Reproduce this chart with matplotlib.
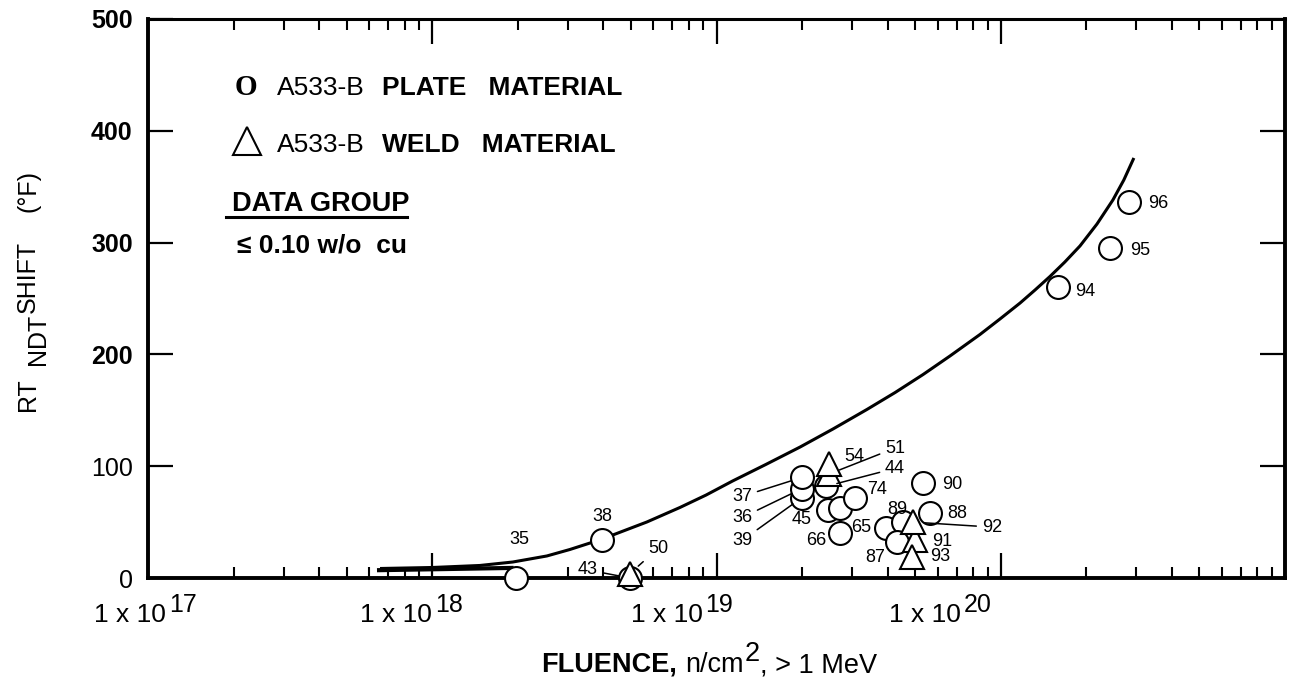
import matplotlib
matplotlib.use("Agg")
import matplotlib.pyplot as plt
from matplotlib.ticker import LogLocator, NullFormatter, FixedLocator
from matplotlib import transforms

plt.rcParams["font.family"] = ["Liberation Sans", "DejaVu Sans"]

# ---------------- data ----------------
# A533-B plate specimens (fluence n/cm^2, RT_NDT shift degF, specimen id)
plate_ids = ["35", "38", "43", "39", "36", "37", "44", "45", "", "74",
             "66", "65", "89", "87", "90", "88", "94", "95", "96"]
plate_fluence = [1.97e18, 3.96e18, 4.96e18, 2.0e19, 2.0e19, 2.0e19, 2.43e19,
                 2.47e19, 2.72e19, 3.07e19, 2.72e19, 3.95e19, 4.53e19, 4.32e19,
                 5.33e19, 5.64e19, 1.59e20, 2.42e20, 2.83e20]
plate_shift = [0, 34, 0, 72, 80, 90, 82, 61, 63, 72, 40, 45, 50, 32, 85, 58,
               260, 295, 336]

# A533-B weld specimens
weld_ids = ["50", "51", "54", "91", "93", "92"]
weld_fluence = [4.96e18, 2.49e19, 2.49e19, 4.99e19, 4.87e19, 4.91e19]
weld_shift = [4, 93, 102, 34, 19, 50]

# upper-bound trend curve
curve_fluence = [6.55e17, 1.0e18, 1.47e18, 1.92e18, 2.53e18, 3.05e18, 3.59e18,
                 4.32e18, 5.69e18, 7.44e18, 9.19e18, 1.14e19, 1.49e19, 1.97e19,
                 2.57e19, 3.38e19, 4.25e19, 5.33e19, 6.63e19, 8.45e19, 9.94e19,
                 1.17e20, 1.32e20, 1.49e20, 1.68e20, 1.90e20, 2.18e20, 2.48e20,
                 2.71e20, 2.94e20]
curve_shift = [8.5, 9.4, 11.2, 14.3, 19.7, 25.5, 31.3, 38.5, 50.1, 63.1, 74.2,
               86.8, 101.5, 117.2, 133.3, 150.7, 165.9, 182.0, 198.6, 217.8,
               231.7, 246.0, 257.6, 269.7, 282.6, 297.0, 316.6, 338.1, 356.0,
               375.7]
curve_base_fluence = [6.5e17, 1.9e18]
curve_base_shift = [7, 9]

decades = [1e17, 1e18, 1e19, 1e20]
decade_exponents = ["17", "18", "19", "20"]
y_ticks = [0, 100, 200, 300, 400, 500]

# label offsets (pixels) and whether a leader line is drawn
plate_label_style = {
    "35": (3, 39, False), "38": (0, 23, False), "43": (-42, 8, True),
    "39": (-60, -43, True), "36": (-60, -29, True), "37": (-60, -19, True),
    "44": (69, 18, True), "45": (-26, -10, False), "74": (22, 8, False),
    "66": (-24, -7, False), "65": (-25, 0, False), "89": (-6, 13, False),
    "87": (-22, -15, False), "90": (29, -2, False), "88": (27, 0, False),
    "94": (27, -4, False), "95": (30, -2, False), "96": (29, -1, False),
}
weld_label_style = {
    "50": (28, 25, True), "51": (66, 26, True), "54": (25, 7, False),
    "91": (27, -2, False), "93": (28, 0, False), "92": (79, -5, True),
}

# ---------------- figure ----------------
W, H = 1295, 681
fig = plt.figure(figsize=(W / 100, H / 100), dpi=100)
ax = fig.add_axes([148 / W, 103 / H, 1137 / W, 559 / H])
ax.set_xscale("log")
ax.set_xlim(1e17, 1e21)
ax.set_ylim(0, 500)

for side, lw in (("left", 2.8), ("bottom", 2.8), ("top", 2.2), ("right", 2.8)):
    ax.spines[side].set_linewidth(lw)

ax.xaxis.set_major_locator(FixedLocator(decades + [1e21]))
ax.xaxis.set_minor_locator(LogLocator(base=10, subs=range(2, 10), numticks=20))
ax.xaxis.set_minor_formatter(NullFormatter())
ax.tick_params(axis="x", which="major", direction="in", length=18, width=1.6,
               top=True, bottom=True, labelbottom=False)
ax.tick_params(axis="x", which="minor", direction="in", length=8, width=1.5,
               top=True, bottom=True)
ax.set_yticks(y_ticks)
ax.set_yticklabels([str(v) for v in y_ticks])
ax.tick_params(axis="y", which="major", direction="in", length=18, width=1.6,
               left=True, right=True, labelsize=18, pad=11)
for lab, v in zip(ax.get_yticklabels(), y_ticks):
    lab.set_fontweight("bold" if v >= 200 else "normal")

# decade labels written as "1 x 10" with a raised exponent
blend = transforms.blended_transform_factory(ax.transData, ax.transAxes)
label_shift = [-1, -19, -33, -59]
for d, e, s in zip(decades, decade_exponents, label_shift):
    ax.annotate("1 x 10", xy=(d, 0), xycoords=blend,
                xytext=(s + 19, -44), textcoords="offset pixels",
                ha="right", va="baseline", fontsize=19, annotation_clip=False)
    ax.annotate(e, xy=(d, 0), xycoords=blend,
                xytext=(s + 22, -34), textcoords="offset pixels",
                ha="left", va="baseline", fontsize=18, annotation_clip=False)

# trend curve
ax.plot(curve_fluence, curve_shift, color="black", lw=2.2, zorder=2,
        solid_capstyle="butt", solid_joinstyle="round")
ax.plot(curve_base_fluence, curve_base_shift, color="black", lw=3.0, zorder=2)

# data markers
for f, s in zip(plate_fluence, plate_shift):
    ax.plot(f, s, marker="o", ms=16.5, mfc="white", mec="black", mew=1.5,
            ls="none", zorder=3, clip_on=False)
for f, s in zip(weld_fluence, weld_shift):
    ax.plot(f, s, marker="^", ms=17, mfc="white", mec="black", mew=1.5,
            ls="none", zorder=4, clip_on=False)


def label_points(ids, xs, ys, style):
    for lid, x, y in zip(ids, xs, ys):
        if not lid:
            continue
        dx, dy, leader = style[lid]
        props = None
        if leader:
            props = dict(arrowstyle="-", color="black", lw=1.1,
                         shrinkA=2, shrinkB=8)
        ax.annotate(lid, xy=(x, y), xytext=(dx, dy),
                    textcoords="offset pixels", ha="center", va="center",
                    fontsize=13, arrowprops=props, zorder=5,
                    annotation_clip=False)


label_points(plate_ids, plate_fluence, plate_shift, plate_label_style)
label_points(weld_ids, weld_fluence, weld_shift, weld_label_style)

# key in the upper-left corner
ax.text(0.0862, 0.864, "O", transform=ax.transAxes, ha="center",
        va="baseline", fontsize=21, fontweight="bold",
        family=["Liberation Serif", "DejaVu Serif"])
ax.plot([0.0871], [0.782], transform=ax.transAxes, marker="^", ms=20,
        mfc="white", mec="black", mew=1.5, ls="none")
ax.text(0.1135, 0.864, "A533-B", transform=ax.transAxes, ha="left",
        va="baseline", fontsize=19)
ax.text(0.2058, 0.864, "PLATE   MATERIAL", transform=ax.transAxes,
        ha="left", va="baseline", fontsize=19, fontweight="bold")
ax.text(0.1135, 0.762, "A533-B", transform=ax.transAxes, ha="left",
        va="baseline", fontsize=19)
ax.text(0.2058, 0.762, "WELD   MATERIAL", transform=ax.transAxes,
        ha="left", va="baseline", fontsize=19, fontweight="bold")
ax.text(0.0739, 0.6565, "DATA GROUP", transform=ax.transAxes, ha="left",
        va="baseline", fontsize=19.5, fontweight="bold")
ax.plot([0.0686, 0.2278], [0.6458, 0.6458], transform=ax.transAxes,
        color="black", lw=2.2)
ax.text(0.0783, 0.583, "\u2264 0.10 w/o  cu", transform=ax.transAxes,
        ha="left", va="baseline", fontsize=19, fontweight="bold")

# axis titles, set piece by piece in figure pixels
renderer = fig.canvas.get_renderer()


def fig_px(x, y):
    return x / W, 1 - y / H


# x title: (text, size, weight, rise, gap after)
xpieces = [("FLUENCE,", 19.5, "bold", 0, 8), ("n/cm", 19.5, "normal", 0, 1),
           ("2", 19.5, "normal", 11, 0), (", > 1 MeV", 19.5, "normal", 0, 0)]
xpos = 541
for s, size, weight, rise, gap in xpieces:
    t = fig.text(*fig_px(xpos, 672 - rise), s, fontsize=size,
                 fontweight=weight, ha="left", va="baseline")
    xpos += t.get_window_extent(renderer).width + gap

# y title: rotated pieces (text, start y, baseline x)
ypieces = [("RT", 411, 35), ("NDT", 365, 45), ("SHIFT", 313, 35),
           ("(°F)", 212, 35)]
for s, ystart, xbase in ypieces:
    fig.text(*fig_px(xbase, ystart), s, fontsize=18, rotation=90,
             rotation_mode="anchor", ha="left", va="baseline")

fig.savefig("out.png", dpi=100, facecolor="white")
